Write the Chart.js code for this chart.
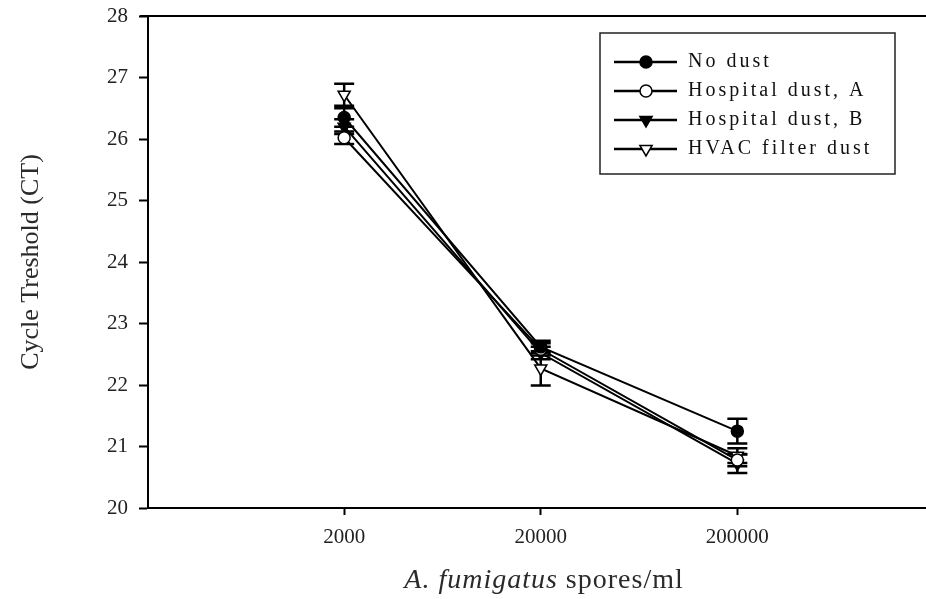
<!DOCTYPE html>
<html>
<head>
<meta charset="utf-8">
<script src="https://cdn.jsdelivr.net/npm/chart.js@4.4.0/dist/chart.umd.min.js"></script>
<style>
  html, body { margin: 0; padding: 0; background: #fff; }
  #wrap { width: 926px; height: 599px; position: relative; }
</style>
</head>
<body>
<div id="wrap"><canvas id="ctChart" width="926" height="599"></canvas></div>
<script>
// spore doses (x) and tick labels
const doses = [2000, 20000, 200000];
const yTicks = [20, 21, 22, 23, 24, 25, 26, 27, 28];

// mean CT values and error (+/-) per series
const noDust = [26.35, 22.62, 21.25];
const noDustErr = [0.15, 0.1, 0.2];
const hospA = [26.02, 22.58, 20.78];
const hospAErr = [0.1, 0.1, 0.1];
const hospB = [26.2, 22.52, 20.72];
const hospBErr = [0.12, 0.1, 0.15];
const hvac = [26.72, 22.27, 20.85];
const hvacErr = [0.18, 0.28, 0.12];

const serif = "'Liberation Serif', 'DejaVu Serif', serif";

function pts(vals) {
  return doses.map((d, i) => ({ x: d, y: vals[i] }));
}

function makeSet(label, vals, errs, style, filled) {
  return {
    label: label,
    data: pts(vals),
    errors: errs,
    borderColor: "#000",
    borderWidth: 2,
    pointStyle: style === "tri" ? "triangle" : "circle",
    pointRotation: style === "tri" ? 180 : 0,
    pointRadius: style === "tri" ? 7 : 6,
    pointBackgroundColor: filled ? "#000" : "#fff",
    pointBorderColor: "#000",
    pointBorderWidth: 1.5,
    markerStyle: style,
    markerFilled: filled,
    tension: 0,
  };
}

// draw a marker for the legend
function drawMarker(ctx, style, x, y, filled) {
  ctx.save();
  ctx.beginPath();
  if (style === "tri") {
    const r = 7;
    ctx.moveTo(x - r * 0.87, y - r * 0.5);
    ctx.lineTo(x + r * 0.87, y - r * 0.5);
    ctx.lineTo(x, y + r);
    ctx.closePath();
  } else {
    ctx.arc(x, y, 6, 0, Math.PI * 2);
  }
  ctx.fillStyle = filled ? "#000" : "#fff";
  ctx.fill();
  ctx.lineWidth = 1.5;
  ctx.strokeStyle = "#000";
  ctx.stroke();
  ctx.restore();
}

// error bars, drawn before the markers
const errorBars = {
  id: "errorBars",
  beforeDatasetsDraw(chart) {
    const ctx = chart.ctx;
    const xs = chart.scales.x;
    const ys = chart.scales.y;
    ctx.save();
    ctx.strokeStyle = "#000";
    ctx.lineWidth = 2.5;
    chart.data.datasets.forEach((ds) => {
      ds.data.forEach((p, i) => {
        const e = ds.errors[i];
        const px = xs.getPixelForValue(p.x);
        const top = ys.getPixelForValue(p.y + e);
        const bot = ys.getPixelForValue(p.y - e);
        ctx.beginPath();
        ctx.moveTo(px, top);
        ctx.lineTo(px, bot);
        ctx.moveTo(px - 10, top);
        ctx.lineTo(px + 10, top);
        ctx.moveTo(px - 10, bot);
        ctx.lineTo(px + 10, bot);
        ctx.stroke();
      });
    });
    ctx.restore();
  },
};

// top frame line, axis titles and boxed legend
const decorations = {
  id: "decorations",
  afterDraw(chart) {
    const ctx = chart.ctx;
    const a = chart.chartArea;
    ctx.save();
    ctx.strokeStyle = "#000";
    ctx.lineWidth = 2;
    ctx.beginPath();
    ctx.moveTo(a.left - 8, a.top);
    ctx.lineTo(chart.width, a.top);
    // the frame runs on past the right edge of the figure
    ctx.moveTo(a.right - 1, a.bottom);
    ctx.lineTo(chart.width, a.bottom);
    ctx.stroke();

    // y title
    ctx.fillStyle = "#2a2a2a";
    ctx.font = "26px " + serif;
    ctx.textAlign = "center";
    ctx.textBaseline = "middle";
    ctx.save();
    ctx.translate(31, 262);
    ctx.rotate(-Math.PI / 2);
    ctx.fillText("Cycle Treshold (CT)", 0, 0);
    ctx.restore();

    // x title, italic species name
    const it = "A. fumigatus";
    const rest = " spores/ml";
    ctx.textAlign = "left";
    ctx.textBaseline = "alphabetic";
    ctx.letterSpacing = "1px";
    ctx.font = "italic 28px " + serif;
    const w1 = ctx.measureText(it).width;
    ctx.font = "28px " + serif;
    const w2 = ctx.measureText(rest).width;
    const x0 = 544 - (w1 + w2) / 2;
    ctx.font = "italic 28px " + serif;
    ctx.fillText(it, x0, 588);
    ctx.font = "28px " + serif;
    ctx.fillText(rest, x0 + w1, 588);

    // legend box
    ctx.lineWidth = 1.5;
    ctx.strokeStyle = "#222";
    ctx.strokeRect(600, 33, 295, 141);
    ctx.font = "20px " + serif;
    ctx.letterSpacing = "3px";
    ctx.textBaseline = "middle";
    chart.data.datasets.forEach((ds, i) => {
      const y = 62 + i * 29;
      ctx.strokeStyle = "#000";
      ctx.lineWidth = 2.5;
      ctx.beginPath();
      ctx.moveTo(614, y);
      ctx.lineTo(677, y);
      ctx.stroke();
      drawMarker(ctx, ds.markerStyle, 646, y, ds.markerFilled);
      ctx.fillStyle = "#111";
      ctx.fillText(ds.label, 688, y);
    });
    ctx.restore();
  },
};

const ctx = document.getElementById("ctChart").getContext("2d");
const chart = new Chart(ctx, {
  type: "line",
  data: {
    datasets: [
      makeSet("No dust", noDust, noDustErr, "circle", true),
      makeSet("Hospital dust, A", hospA, hospAErr, "circle", false),
      makeSet("Hospital dust, B", hospB, hospBErr, "tri", true),
      makeSet("HVAC filter dust", hvac, hvacErr, "tri", false),
    ],
  },
  options: {
    responsive: false,
    animation: false,
    layout: { padding: 0 },
    plugins: { legend: { display: false }, tooltip: { enabled: false } },
    scales: {
      x: {
        type: "logarithmic",
        min: 201,
        max: 1650000,
        afterBuildTicks(scale) {
          scale.ticks = doses.map((v) => ({ value: v }));
        },
        afterFit(scale) {
          scale.height = 91;
          scale.paddingLeft = 0;
          scale.paddingRight = 0;
        },
        ticks: {
          color: "#222",
          font: { family: serif, size: 21 },
          padding: 10,
          maxRotation: 0,
          autoSkip: false,
          callback: (v) => String(v),
        },
        grid: { drawOnChartArea: false, drawTicks: true, tickLength: 7, tickColor: "#000", tickWidth: 2 },
        border: { display: true, color: "#000", width: 2 },
      },
      y: {
        min: 20,
        max: 28,
        afterBuildTicks(scale) {
          scale.ticks = yTicks.map((v) => ({ value: v }));
        },
        afterFit(scale) {
          scale.width = 148;
          scale.paddingTop = 16;
          scale.paddingBottom = 0;
        },
        ticks: {
          color: "#222",
          font: { family: serif, size: 21 },
          padding: 11,
        },
        grid: { drawOnChartArea: false, drawTicks: true, tickLength: 9, tickColor: "#000", tickWidth: 2 },
        border: { display: true, color: "#000", width: 2 },
      },
    },
  },
  plugins: [errorBars, decorations],
});
</script>
</body>
</html>
